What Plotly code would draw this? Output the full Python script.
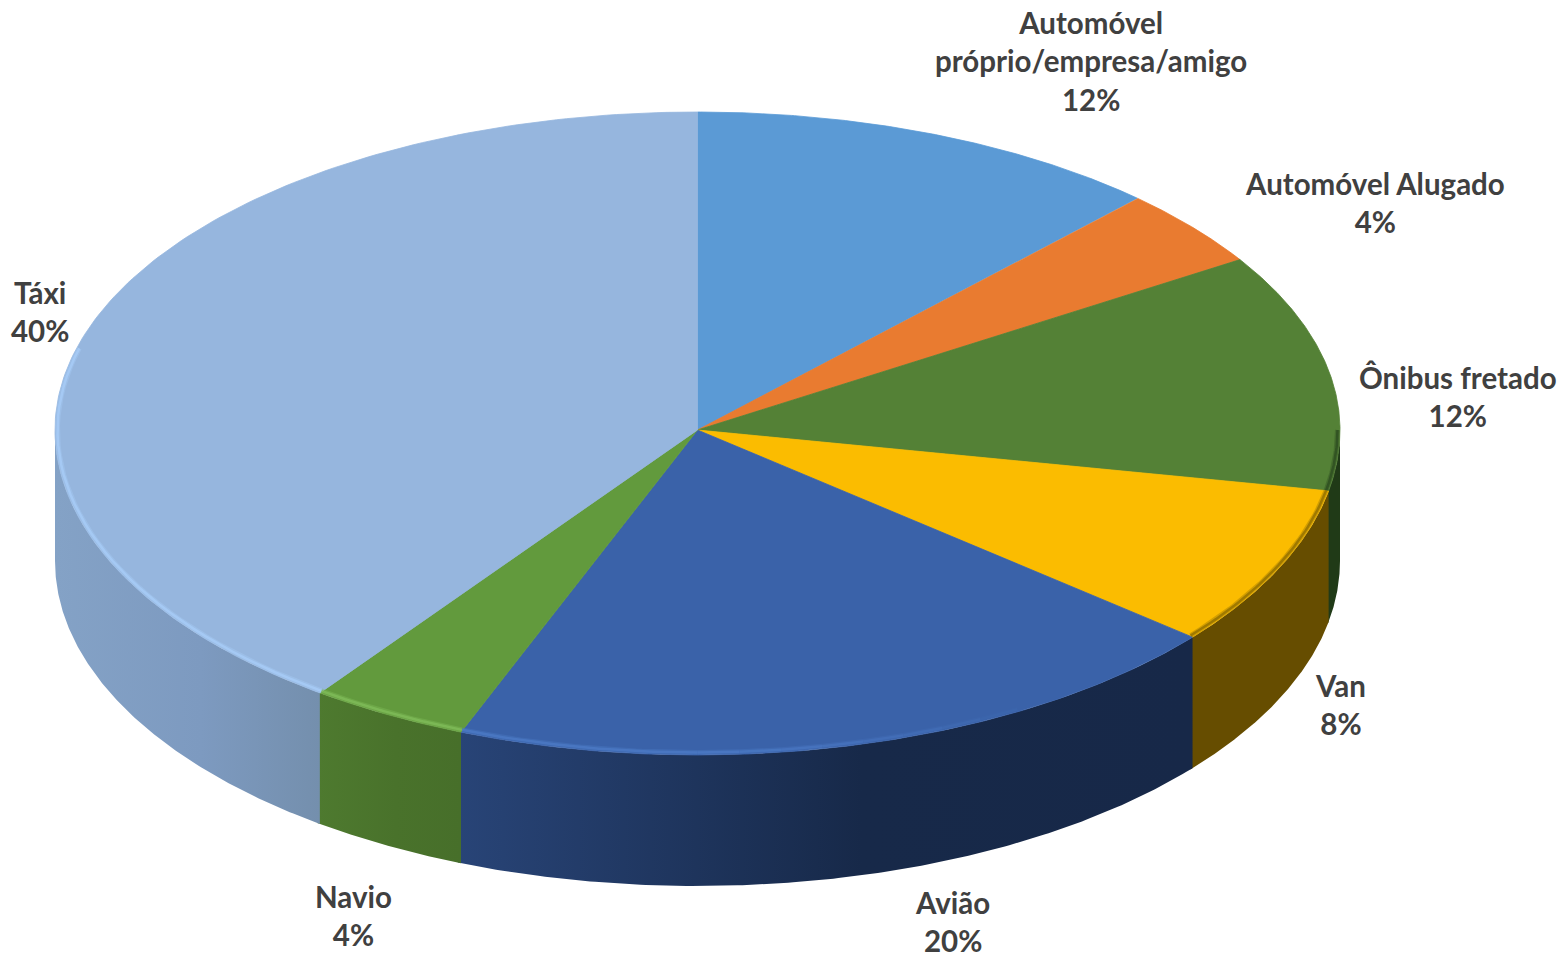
import numpy as np
import plotly.graph_objects as go

categories = ["Automóvel<br>próprio/empresa/amigo", "Automóvel Alugado", "Ônibus fretado",
              "Van", "Avião", "Navio", "Táxi"]
values = [12, 4, 12, 8, 20, 4, 40]

top_colors = ["#5b9ad5", "#e97b30", "#548136", "#fbbc00", "#3a62a9", "#629a3d", "#96b6de"]
side_left = ["#3f6d96", "#a35621", "#203a17", "#664d00", "#284477", "#4e7a2f", "#84a2c6"]
side_mid = ["#3f6d96", "#a35621", "#203a17", "#664d00", "#172949", "#49722b", "#7d9ac0"]
side_right = ["#3f6d96", "#a35621", "#203a17", "#664d00", "#172848", "#476f2a", "#748fad"]
rim_colors = ["#5b9ad5", "#e97b30", "#2b4a1f", "#8a6a00", "#4d7cc8", "#82bf5c", "#a9cffa"]
rim_start = [90, 90, 90, 90, 150, 90, 90]
rim_fade = [0, 0, 0, 0, 30, 0, 0]
label_x = [1091, 1375, 1458, 1340, 952, 353, 40]
label_y = [61, 202, 396, 704, 921, 915, 311]

CX, CY = 697.5, 430
RX, RY_UP, RY_DOWN = 642.5, 318, 325
DEPTH = 131
TEXT = "#404040"
FONT = "Lato"


def rim(a, b, inset=0, n=160):
    t = np.radians(np.linspace(a, b, n))
    c = np.cos(t)
    y = CY - c * (np.where(c >= 0, RY_UP, RY_DOWN) - inset)
    return CX + (RX - inset) * np.sin(t), y


fig = go.Figure()
edges = np.cumsum([0] + values) * 3.6

# Side walls (only the part of the rim that faces the viewer), right to left
for i in range(len(values)):
    a, b = max(edges[i], 90), min(edges[i + 1] + 0.3, 270)
    if a >= b:
        continue
    x, y = rim(a, b)
    fig.add_trace(go.Scatter(
        x=np.r_[x, x[::-1], x[0]], y=np.r_[y, y[::-1] + DEPTH, y[0]],
        mode="lines", line=dict(width=0), fill="toself",
        fillgradient=dict(type="horizontal",
                          colorscale=[[0, side_left[i]], [0.55, side_mid[i]], [1, side_right[i]]]),
        hoverinfo="skip", showlegend=False))

# Top sectors
for i in range(len(values)):
    x, y = rim(edges[i], edges[i + 1])
    fig.add_trace(go.Scatter(
        x=np.r_[CX, x, CX], y=np.r_[CY, y, CY],
        mode="lines", line=dict(width=0.8, color=top_colors[i]), fill="toself",
        fillcolor=top_colors[i], hoverinfo="skip", showlegend=False))

# Bevel highlight along the front rim; some slices fade it in over rim_fade degrees
for i in range(len(values)):
    a, b = max(edges[i], rim_start[i]), min(edges[i + 1], 285)
    if a >= b:
        continue
    fade_end = a + rim_fade[i]
    spans = [(a + rim_fade[i] * k / 8, a + rim_fade[i] * (k + 1) / 8, (k + 1) / 8)
             for k in range(8)] if rim_fade[i] else []
    spans.append((fade_end, b, 1.0))
    for s0, s1, strength in spans:
        x, y = rim(s0, s1, inset=2.5, n=40)
        for w, op in ((5, 0.35), (2.5, 0.7)):
            fig.add_trace(go.Scatter(
                x=x, y=y, mode="lines", opacity=op * strength,
                line=dict(color=rim_colors[i], width=w),
                hoverinfo="skip", showlegend=False))

annotations = [
    dict(x=lx, y=ly, xref="x", yref="y", text=f"<b>{c}<br>{v}%</b>", showarrow=False,
         align="center", xanchor="center", yanchor="middle",
         font=dict(family=FONT, size=29.5, color=TEXT))
    for c, v, lx, ly in zip(categories, values, label_x, label_y)
]

fig.update_layout(
    width=1562, height=953, margin=dict(l=0, r=0, t=0, b=0),
    paper_bgcolor="white", plot_bgcolor="white", showlegend=False,
    xaxis=dict(range=[0, 1562], visible=False, fixedrange=True),
    yaxis=dict(range=[953, 0], visible=False, fixedrange=True),
    annotations=annotations,
)
fig.write_html("out.html", config={"displayModeBar": False},
               post_script="document.body.style.margin='0';document.documentElement.style.overflow='hidden';")
